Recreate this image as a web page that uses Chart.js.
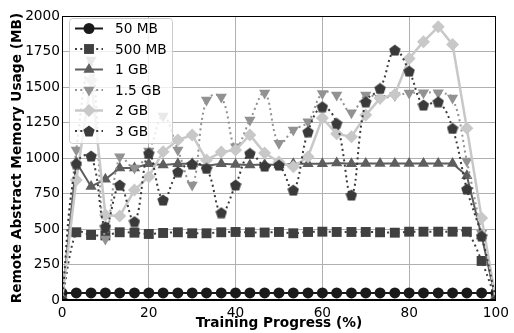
<!DOCTYPE html>
<html>
<head>
<meta charset="utf-8">
<script src="https://cdn.jsdelivr.net/npm/chart.js@4/dist/chart.umd.min.js"></script>
<style>
  html, body { margin: 0; padding: 0; background: #fff; }
  canvas { display: block; }
</style>
</head>
<body>
<canvas id="memChart" width="514" height="333"></canvas>
<script>
// training progress (%) where each marker sits
const progress = [0, 3.3, 6.7, 10, 13.3, 16.7, 20, 23.3, 26.7, 30, 33.3, 36.7, 40, 43.3, 46.7, 50,
  53.3, 56.7, 60, 63.3, 66.7, 70, 73.3, 76.7, 80, 83.3, 86.7, 90, 93.3, 96.7, 100];

const seriesNames = ["50 MB", "500 MB", "1 GB", "1.5 GB", "2 GB", "3 GB"];

const mem50MB = [50, 50, 50, 50, 50, 50, 50, 50, 50, 50, 50, 50, 50, 50, 50, 50,
  50, 50, 50, 50, 50, 50, 50, 50, 50, 50, 50, 50, 50, 50, 50];
const mem500MB = [0, 477, 458, 455, 477, 474, 465, 472, 477, 470, 470, 477, 479, 477, 475, 479,
  470, 479, 481, 479, 479, 479, 477, 474, 481, 481, 481, 481, 481, 275, 0];
const mem1GB = [0, 970, 800, 850, 930, 930, 960, 950, 960, 960, 945, 960, 955, 950, 955, 950,
  960, 960, 960, 965, 960, 962, 962, 962, 962, 962, 962, 962, 875, 450, 0];
const mem1_5GB = [0, 1056, 1690, 430, 1009, 930, 1050, 1295, 1056, 810, 1408, 1430, 1080, 1267, 1457, 1103,
  1197, 1255, 1455, 1443, 1319, 1443, 1420, 1440, 1457, 1460, 1460, 1422, 979, 470, 0];
const mem2GB = [0, 845, 1550, 598, 591, 774, 868, 1044, 1126, 1162, 986, 1042, 1056, 1162, 1035, 972,
  938, 1009, 1281, 1170, 1150, 1302, 1420, 1448, 1701, 1819, 1924, 1800, 1209, 577, 0];
const mem3GB = [0, 960, 1014, 516, 810, 552, 1033, 704, 903, 957, 927, 615, 810, 1033, 943, 950,
  774, 1185, 1361, 1244, 739, 1396, 1490, 1760, 1612, 1373, 1396, 1209, 781, 450, 0];

const xTicksStep = 20;
const yTicksStep = 250;

const FONT = "'DejaVu Sans', sans-serif";

// pentagon marker as image (Chart.js has no pentagon)
function makePentagon(color, size) {
  const c = document.createElement("canvas");
  c.width = size; c.height = size;
  const g = c.getContext("2d");
  const r = size / 2;
  g.fillStyle = color;
  g.beginPath();
  for (let k = 0; k < 5; k++) {
    const a = -Math.PI / 2 + k * 2 * Math.PI / 5;
    const px = r + r * Math.cos(a);
    const py = r + 0.6 + r * Math.sin(a);
    if (k === 0) g.moveTo(px, py); else g.lineTo(px, py);
  }
  g.closePath();
  g.fill();
  return c;
}

const styles = [
  { color: "#1a1a1a", dash: [], point: "circle", radius: 5.5, rot: 0, width: 2, tension: 0 },
  { color: "#404040", dash: [2, 3.3], point: "rect", radius: 7, rot: 0, width: 2, tension: 0.3 },
  { color: "#5e5e5e", dash: [], point: "triangle", radius: 6.5, rot: 0, width: 2, tension: 0 },
  { color: "#929292", dash: [2, 3.3], point: "triangle", radius: 6.5, rot: 180, width: 2, tension: 0.4 },
  { color: "#c8c8c8", dash: [], point: "rectRot", radius: 6.5, rot: 0, width: 2.5, tension: 0 },
  { color: "#3a3a3a", dash: [2, 3.3], point: makePentagon("#3a3a3a", 12), radius: 6, rot: 0, width: 2, tension: 0.4 }
];

const allSeries = [mem50MB, mem500MB, mem1GB, mem1_5GB, mem2GB, mem3GB];

const datasets = allSeries.map(function (values, i) {
  const st = styles[i];
  return {
    label: seriesNames[i],
    data: progress.map((x, k) => ({ x: x, y: values[k] })),
    borderColor: st.color,
    backgroundColor: st.color,
    borderWidth: st.width,
    borderDash: st.dash,
    pointStyle: st.point,
    pointRadius: st.radius,
    pointRotation: st.rot,
    pointBorderWidth: 0,
    pointBackgroundColor: st.color,
    tension: st.tension,
    order: 5 - i
  };
});

// draw a marker for the legend
function drawMarker(ctx, st, x, y) {
  ctx.save();
  ctx.fillStyle = st.color;
  const r = st.radius;
  if (st.point instanceof HTMLCanvasElement) {
    ctx.drawImage(st.point, x - st.point.width / 2, y - st.point.height / 2);
  } else if (st.point === "circle") {
    ctx.beginPath(); ctx.arc(x, y, r, 0, Math.PI * 2); ctx.fill();
  } else if (st.point === "rect") {
    const s = r * Math.SQRT1_2;
    ctx.fillRect(x - s, y - s, 2 * s, 2 * s);
  } else if (st.point === "rectRot") {
    ctx.beginPath();
    ctx.moveTo(x, y - r); ctx.lineTo(x + r, y); ctx.lineTo(x, y + r); ctx.lineTo(x - r, y);
    ctx.closePath(); ctx.fill();
  } else if (st.point === "triangle") {
    const dir = st.rot === 180 ? -1 : 1;
    ctx.beginPath();
    ctx.moveTo(x, y - dir * r);
    ctx.lineTo(x + r * 0.866, y + dir * r / 2);
    ctx.lineTo(x - r * 0.866, y + dir * r / 2);
    ctx.closePath(); ctx.fill();
  }
  ctx.restore();
}

const framePlugin = {
  id: "frame",
  afterDatasetsDraw(chart) {
    const { ctx, chartArea: a } = chart;
    ctx.save();
    ctx.strokeStyle = "#000";
    ctx.lineWidth = 1;
    ctx.strokeRect(Math.round(a.left) + 0.5, Math.round(a.top) + 0.5,
      Math.round(a.right - a.left) - 1, Math.round(a.bottom - a.top) - 1);
    ctx.restore();
  },
  afterDraw(chart) {
    const ctx = chart.ctx;
    const a = chart.chartArea;
    const bx = a.left + 7, by = a.top + 2, bw = 103, bh = 125;
    ctx.save();
    ctx.fillStyle = "rgba(255,255,255,0.8)";
    ctx.strokeStyle = "#cccccc";
    ctx.lineWidth = 1;
    ctx.beginPath();
    ctx.roundRect(bx + 0.5, by + 0.5, bw, bh, 3);
    ctx.fill();
    ctx.stroke();
    styles.forEach(function (st, i) {
      const y = by + 10.5 + i * 20.5;
      ctx.save();
      ctx.strokeStyle = st.color;
      ctx.lineWidth = st.width;
      ctx.setLineDash(st.dash);
      ctx.beginPath();
      ctx.moveTo(bx + 6, y);
      ctx.lineTo(bx + 34, y);
      ctx.stroke();
      ctx.restore();
      drawMarker(ctx, st, bx + 20, y);
      ctx.fillStyle = "#000";
      ctx.font = "13.7px " + FONT;
      ctx.textBaseline = "middle";
      ctx.fillText(seriesNames[i], bx + 46, y + 1);
    });
    ctx.restore();
  }
};

new Chart(document.getElementById("memChart"), {
  type: "line",
  data: { datasets: datasets },
  plugins: [framePlugin],
  options: {
    responsive: false,
    animation: false,
    devicePixelRatio: 1,
    layout: { padding: { top: 16, right: 13, left: 0, bottom: 0 } },
    plugins: { legend: { display: false }, tooltip: { enabled: false } },
    scales: {
      x: {
        type: "linear",
        min: 0,
        max: 100,
        ticks: { stepSize: xTicksStep, color: "#000", font: { family: FONT, size: 13.7 }, padding: 5,
          maxRotation: 0, callback: (v) => String(v) },
        grid: { color: "#b0b0b0", drawTicks: false },
        border: { color: "#000" },
        title: { display: true, text: "Training Progress (%)", color: "#000",
          font: { family: FONT, size: 13.7, weight: "bold" }, padding: { top: 0, bottom: 1 } },
        afterFit(scale) { scale.height = 33; }
      },
      y: {
        min: 0,
        max: 2000,
        ticks: { stepSize: yTicksStep, color: "#000", font: { family: FONT, size: 13.7 }, padding: 2,
          callback: (v) => String(v) },
        grid: { color: "#b0b0b0", drawTicks: false },
        border: { color: "#000" },
        title: { display: true, text: "Remote Abstract Memory Usage (MB)", color: "#000",
          font: { family: FONT, size: 13.7, weight: "bold" }, padding: { top: 9, bottom: 0 } },
        afterFit(scale) { scale.width = 62; }
      }
    }
  }
});
</script>
</body>
</html>
